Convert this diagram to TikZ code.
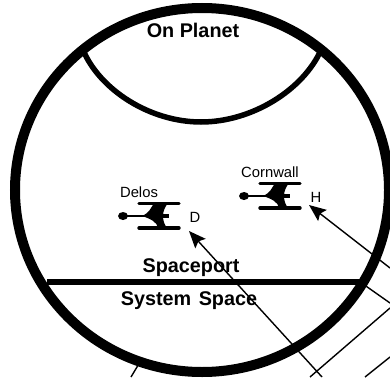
\documentclass[tikz,border=0pt]{standalone}
\usepackage{fontspec}
\setmainfont{Liberation Sans}
\usetikzlibrary{arrows.meta}
\tikzset{
  ring/.style={line width=10pt},
  divider/.style={line width=5.5pt},
  ray/.style={line width=1.4pt},
  arrowray/.style={ray,-{Stealth[length=17pt,width=14pt,inset=3pt]}},
  region/.style={font=\bfseries\fontsize{19.8}{22}\selectfont,inner sep=0pt,anchor=base},
  shiplabel/.style={font=\fontsize{14.8}{17}\selectfont,inner sep=0pt,anchor=base},
}
\newcommand{\shipicon}[1]{%
  \begin{scope}[shift={#1},x=1pt,y=-1pt]
    \fill (-36,0) ellipse (5pt and 4pt);
    \draw[line width=2.2pt] (-36,0) -- (-12,0);
    \draw[line width=3.4pt,line cap=round] (-20,-12.5) -- (20,-12.5);
    \draw[line width=3.4pt,line cap=round] (-20,12) -- (20,12);
    \draw[line width=3.8pt] (0,0) -- (10,0);
    \fill (-17,0) .. controls (-10,-3) and (-8,-8) .. (-5,-13) -- (9,-13) .. controls (6,-9) and (4,-5) .. (4,0) .. controls (4,4) and (5,8) .. (8,12) -- (-1,12) .. controls (-2,6) and (-8,3) .. (-17,0) -- cycle;
  \end{scope}}
\begin{document}
\begin{tikzpicture}[x=1pt,y=-1pt]
\useasboundingbox (0,0) rectangle (390,377);
\fill[white] (0,0) rectangle (390,377);
% rays
\coordinate (dtip) at (189,231);
\coordinate (dend) at (322,377);
\coordinate (htip) at (309,205);
\coordinate (hend) at (390,268);
\coordinate (a1) at (363,284);
\coordinate (a2) at (390,303);
\coordinate (b1) at (390,308);
\coordinate (b2) at (310,377);
\coordinate (c1) at (390,357);
\coordinate (c2) at (365,377);
\coordinate (e1) at (140,362);
\coordinate (e2) at (131,377);
\draw[arrowray] (dend) -- (dtip);
\draw[arrowray] (hend) -- (htip);
\draw[ray] (a1) -- (a2);
\draw[ray] (b1) -- (b2);
\draw[ray] (c1) -- (c2);
\draw[ray] (e1) -- (e2);
% regions
\coordinate (pl) at (83,50);
\coordinate (pm) at (201,122);
\coordinate (pr) at (321,50);
\coordinate (sl) at (47,282);
\coordinate (sr) at (365,282);
\draw[divider] (pl) .. controls (100,90) and (150,122) .. (pm) .. controls (252,122) and (303,90) .. (pr);
\draw[divider] (sl) -- (sr);
\draw[ring] (202,190) ellipse (187pt and 182pt);
% labels
\node[region] (onplanet) at (193,38) {On Planet};
\node[region] (spaceport) at (191,272) {Spaceport};
\node[region] (system) at (189,305) {System\hspace{2pt} Space};
\shipicon{(159,216)}
\shipicon{(280,196)}
\node[shiplabel] (delos) at (139,197) {Delos};
\node[shiplabel] (d) at (195,222) {D};
\node[shiplabel] (cornwall) at (270,177) {Cornwall};
\node[shiplabel] (h) at (316,202) {H};
\end{tikzpicture}
\end{document}
